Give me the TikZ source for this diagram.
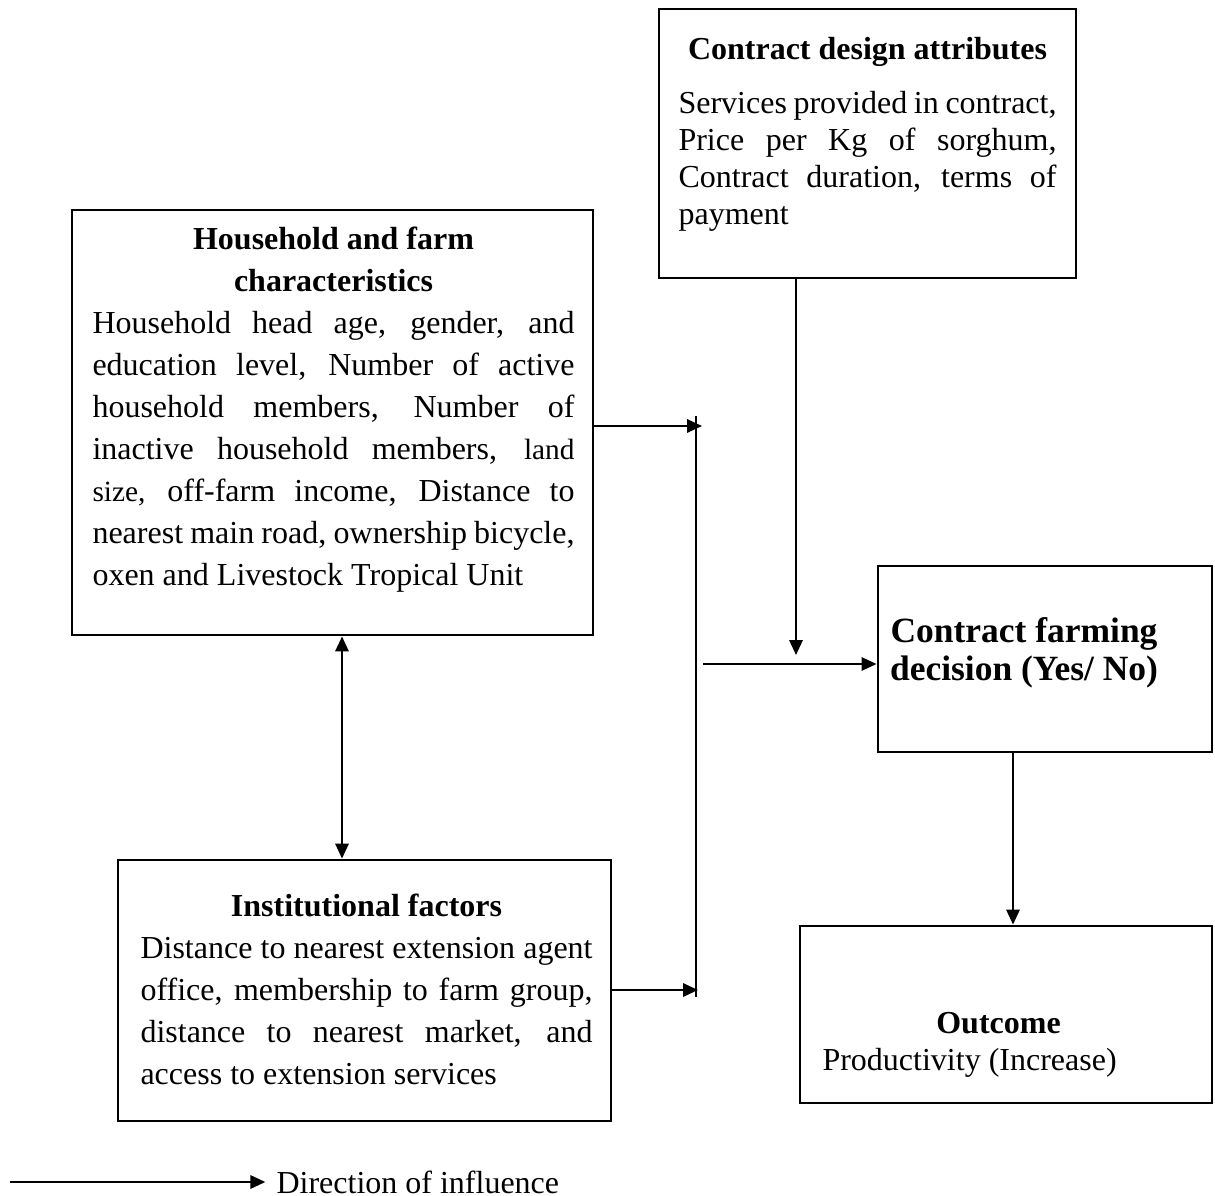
\documentclass[tikz,border=0pt]{standalone}
\usepackage{fontspec}
\setmainfont{Liberation Serif}
\usetikzlibrary{arrows.meta,positioning,fit}
\tikzset{
  factorbox/.style={draw, line width=1.1pt, inner sep=0pt},
  boxtext/.style={inner sep=0pt, anchor=base west, font=\fontsize{12}{15.75}\selectfont},
  flow/.style={line width=0.8pt, -{Triangle[length=5.6pt,width=5pt]}},
  flowboth/.style={line width=0.8pt, {Triangle[length=5.6pt,width=5pt]}-{Triangle[length=5.6pt,width=5pt]}}
}
\begin{document}
\begin{tikzpicture}[x=0.375pt, y=-0.375pt]
    \path[use as bounding box, fill=white] (0,0) rectangle (1215,1196);
    % boxes
    \node[factorbox, fit={(659,9) (1076,278)}] (cda) {};
    \node[factorbox, fit={(72,210) (593,635)}] (hh) {};
    \node[factorbox, fit={(118,860) (611,1121)}] (inst) {};
    \node[factorbox, fit={(878,566) (1212,752)}] (dec) {};
    \node[factorbox, fit={(800,926) (1212,1103)}] (out) {};
    % texts
    \node[boxtext, font=\fontsize{12}{13.9}\selectfont] (cdatext) at (678,60) {\parbox[t]{141.75pt}{{\centering\bfseries Contract design attributes\par}\vspace{6pt}
        Services provided in contract,\linebreak Price per Kg of sorghum,\linebreak Contract duration, terms of\linebreak payment}};
    \node[boxtext] (hhtext) at (92,250) {\parbox[t]{180.75pt}{{\centering\bfseries Household and farm\par characteristics\par}
        Household head age, gender, and\linebreak education level, Number of active\linebreak household members, Number of\linebreak inactive household members, {\fontsize{11}{15.75}\selectfont land}\linebreak {\fontsize{11}{15.75}\selectfont size,} off-farm income, Distance to\linebreak nearest main road, ownership bicycle,\linebreak oxen and Livestock Tropical Unit}};
    \node[boxtext] (insttext) at (140,916) {\parbox[t]{169.5pt}{{\centering\bfseries Institutional factors\par}
        Distance to nearest extension agent\linebreak office, membership to farm group,\linebreak distance to nearest market, and\linebreak access to extension services}};
    \node[boxtext, anchor=base, font=\fontsize{13.3}{14.25}\selectfont\bfseries] (dectext) at (1024,642) {\parbox[t]{125pt}{\centering Contract farming\par decision (Yes/ No)}};
    \node[boxtext, font=\fontsize{12}{13.9}\selectfont] (outtext) at (822,1033) {\parbox[t]{132pt}{{\centering\bfseries Outcome\par}Productivity (Increase)}};
    % connectors
    \coordinate (jtop) at (696,416);
    \coordinate (jbot) at (696,997);
    \draw[line width=0.8pt] (jtop) -- (jbot);
    \coordinate (hhin) at (702,426);
    \draw[flow] (hh.east |- hhin) -- (hhin);
    \coordinate (instin) at (698,990);
    \draw[flow] (inst.east |- instin) -- (instin);
    \coordinate (jout) at (703,664);
    \draw[flow] (jout) -- (dec.west |- jout);
    \coordinate (cdaend) at (796,655);
    \draw[flow] (cda.south -| cdaend) -- (cdaend);
    \coordinate (dbl) at (342,700);
    \draw[flowboth] (hh.south -| dbl) -- (inst.north -| dbl);
    \coordinate (decx) at (1013,840);
    \draw[flow] (dec.south -| decx) -- (out.north -| decx);
    % legend
    \coordinate (legstart) at (10,1182);
    \node[boxtext, anchor=west] (legend) at (276,1182) {Direction of influence};
    \draw[flow] (legstart) -- ([xshift=-4pt]legend.west);
\end{tikzpicture}
\end{document}
